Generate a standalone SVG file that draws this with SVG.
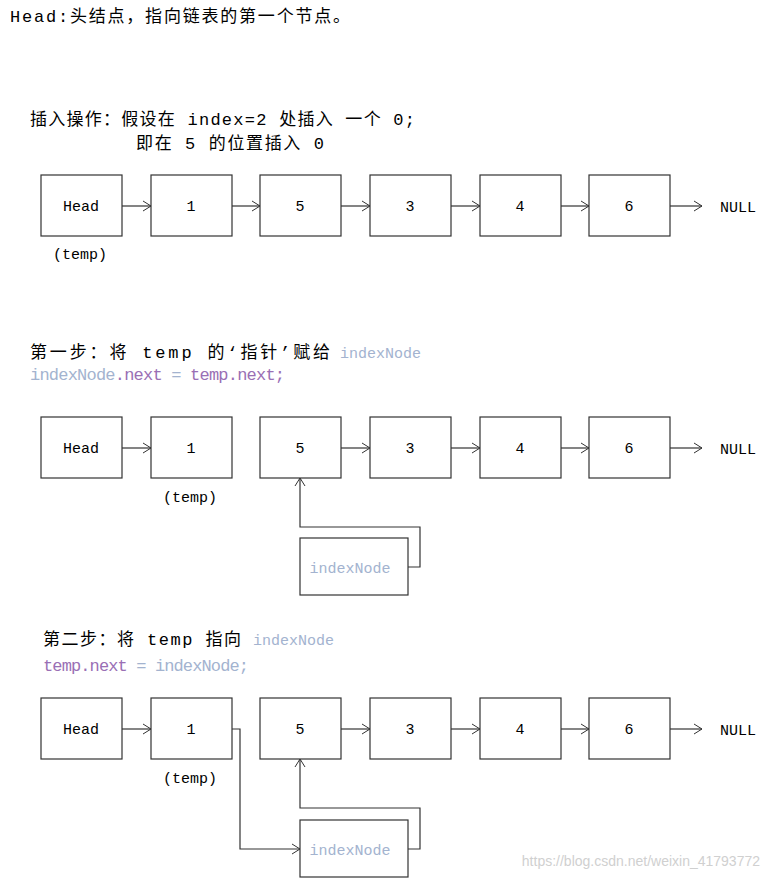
<svg xmlns="http://www.w3.org/2000/svg" width="769" height="878" viewBox="0 0 769 878">
<defs>
<marker id="a" markerWidth="12" markerHeight="12" refX="10" refY="6" orient="auto" markerUnits="userSpaceOnUse"><path d="M2,1 L10,6 L2,11" fill="none" stroke="#333" stroke-width="1"/></marker>
<style>
.b{fill:#fff;stroke:#333;stroke-width:1.2}
.t{font-family:"Liberation Mono","Noto Sans CJK SC",monospace;font-size:17px;fill:#000}
.n{font-family:"Liberation Mono","Noto Sans CJK SC",monospace;font-size:15px;text-anchor:middle;fill:#000}
.g{fill:#a3b3cf}
.p{fill:#9a6fb5}
.c{fill:none;stroke:#333;stroke-width:1.2}
</style>
</defs>
<rect width="769" height="878" fill="#fff"/>
<text class="t" x="10" y="22" textLength="340">Head:头结点，指向链表的第一个节点。</text>
<text class="t" x="30" y="125" textLength="385">插入操作：假设在 index=2 处插入 一个 0;</text>
<text class="t" x="136" y="149" textLength="188">即在 5 的位置插入 0</text>
<text class="t" x="30" y="358"><tspan textLength="300">第一步：将 temp 的‘指针’赋给</tspan><tspan class="g" font-size="15" x="340">indexNode</tspan></text>
<text class="t" x="30" y="380" font-size="15" textLength="255"><tspan class="g">indexNode</tspan><tspan class="p">.next</tspan><tspan class="g"> = </tspan><tspan class="p">temp.next;</tspan></text>
<text class="t" x="43" y="645"><tspan textLength="198">第二步：将 temp 指向</tspan><tspan class="g" font-size="15" x="253">indexNode</tspan></text>
<text class="t" x="43" y="671" font-size="15" textLength="206"><tspan class="p">temp.next</tspan><tspan class="g"> = indexNode;</tspan></text>

<g id="row1">
<rect class="b" x="41" y="175" width="81" height="61"/><text class="n" x="81" y="211">Head</text>
<rect class="b" x="151" y="175" width="81" height="61"/><text class="n" x="191" y="211">1</text>
<rect class="b" x="260" y="175" width="81" height="61"/><text class="n" x="300" y="211">5</text>
<rect class="b" x="370" y="175" width="81" height="61"/><text class="n" x="410" y="211">3</text>
<rect class="b" x="480" y="175" width="81" height="61"/><text class="n" x="520" y="211">4</text>
<rect class="b" x="589" y="175" width="81" height="61"/><text class="n" x="629" y="211">6</text>
<text class="n" x="738" y="212" font-size="17" font-family="Liberation Serif,serif">NULL</text>
<text class="n" x="80" y="259" font-size="17">(temp)</text>
</g>
<g id="row2">
<rect class="b" x="41" y="417" width="81" height="61"/><text class="n" x="81" y="453">Head</text>
<rect class="b" x="151" y="417" width="81" height="61"/><text class="n" x="191" y="453">1</text>
<rect class="b" x="260" y="417" width="81" height="61"/><text class="n" x="300" y="453">5</text>
<rect class="b" x="370" y="417" width="81" height="61"/><text class="n" x="410" y="453">3</text>
<rect class="b" x="480" y="417" width="81" height="61"/><text class="n" x="520" y="453">4</text>
<rect class="b" x="589" y="417" width="81" height="61"/><text class="n" x="629" y="453">6</text>
<text class="n" x="738" y="454" font-size="17" font-family="Liberation Serif,serif">NULL</text>
<text class="n" x="190" y="502" font-size="17">(temp)</text>
<rect class="b" x="300" y="538" width="108" height="57"/><text class="n g" x="350" y="573" font-size="15">indexNode</text>
</g>
<g id="row3">
<rect class="b" x="41" y="698" width="81" height="61"/><text class="n" x="81" y="734">Head</text>
<rect class="b" x="151" y="698" width="81" height="61"/><text class="n" x="191" y="734">1</text>
<rect class="b" x="260" y="698" width="81" height="61"/><text class="n" x="300" y="734">5</text>
<rect class="b" x="370" y="698" width="81" height="61"/><text class="n" x="410" y="734">3</text>
<rect class="b" x="480" y="698" width="81" height="61"/><text class="n" x="520" y="734">4</text>
<rect class="b" x="589" y="698" width="81" height="61"/><text class="n" x="629" y="734">6</text>
<text class="n" x="738" y="735" font-size="17" font-family="Liberation Serif,serif">NULL</text>
<text class="n" x="190" y="783" font-size="17">(temp)</text>
<rect class="b" x="300" y="820" width="108" height="57"/><text class="n g" x="350" y="855" font-size="15">indexNode</text>
</g>
<g id="connectors" class="c" marker-end="url(#a)">
<path d="M122,206H151"/><path d="M232,206H260"/><path d="M341,206H370"/><path d="M451,206H480"/><path d="M561,206H589"/><path d="M670,206H702"/>
<path d="M122,448H151"/><path d="M341,448H370"/><path d="M451,448H480"/><path d="M561,448H589"/><path d="M670,448H702"/>
<path d="M408,567H420V527H300V478"/>
<path d="M122,729H151"/><path d="M341,729H370"/><path d="M451,729H480"/><path d="M561,729H589"/><path d="M670,729H702"/>
<path d="M232,729H240V849H300"/>
<path d="M408,849H420V808H300V759"/>
</g>
<text x="760" y="866" text-anchor="end" font-family="Liberation Sans,sans-serif" font-size="14" fill="#d0d0d0">https://blog.csdn.net/weixin_41793772</text>
</svg>
